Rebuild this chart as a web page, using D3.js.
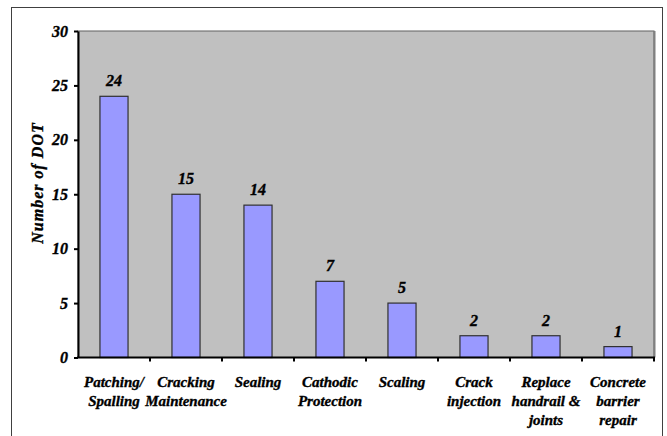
<!DOCTYPE html>
<html>
<head>
<meta charset="utf-8">
<script src="https://cdn.jsdelivr.net/npm/d3@7"></script>
<style>
  html, body { margin: 0; padding: 0; background: #fff; }
</style>
</head>
<body>
<svg id="chart" width="667" height="436"></svg>
<script>
// Repair activities reported by state DOTs
const categories = [
  "Patching/\nSpalling",
  "Cracking\nMaintenance",
  "Sealing",
  "Cathodic\nProtection",
  "Scaling",
  "Crack\ninjection",
  "Replace\nhandrail &\njoints",
  "Concrete\nbarrier\nrepair"
];
const counts = [24, 15, 14, 7, 5, 2, 2, 1];
const yTicks = [0, 5, 10, 15, 20, 25, 30];
const yTitle = "Number of DOT";

const FONT = "'Liberation Serif', 'Times New Roman', Times, serif";
const styleText = (sel, size) => sel
  .style("font-family", FONT)
  .style("font-weight", "bold")
  .style("font-style", "italic")
  .style("font-size", size + "px")
  .style("fill", "#000")
  .style("stroke", "#000")
  .style("stroke-width", "0.35px");

const svg = d3.select("#chart");
const plot = { left: 78, right: 654, top: 31, bottom: 357.5 };

// Outer chart frame
svg.append("rect")
  .attr("x", 11.5).attr("y", 7.5)
  .attr("width", 651).attr("height", 440)
  .attr("fill", "none").attr("stroke", "#404040").attr("stroke-width", 1);

const x = d3.scaleBand()
  .domain(categories)
  .range([plot.left, plot.right])
  .paddingInner(0.61)
  .paddingOuter(0.305);

const y = d3.scaleLinear().domain([0, 30]).range([plot.bottom, plot.top]);

// Plot area background
svg.append("rect")
  .attr("x", plot.left).attr("y", plot.top)
  .attr("width", plot.right - plot.left).attr("height", plot.bottom - plot.top)
  .attr("fill", "#c0c0c0").attr("stroke", "#606060").attr("stroke-width", 1);
svg.append("line")
  .attr("x1", plot.right + 0.5).attr("x2", plot.right + 0.5)
  .attr("y1", plot.top).attr("y2", plot.bottom)
  .attr("stroke", "#808080").attr("stroke-width", 2);

// Bars
svg.append("g").selectAll("rect")
  .data(counts)
  .join("rect")
  .attr("x", (d, i) => x(categories[i]))
  .attr("y", d => y(d))
  .attr("width", x.bandwidth())
  .attr("height", d => y(0) - y(d))
  .attr("fill", "#9999ff")
  .attr("stroke", "#303030").attr("stroke-width", 1.2);

// Value labels
svg.append("g").selectAll("text")
  .data(counts)
  .join("text")
  .attr("x", (d, i) => x(categories[i]) + x.bandwidth() / 2)
  .attr("y", d => y(d) - 10)
  .attr("text-anchor", "middle")
  .text(d => d)
  .call(styleText, 16);

// Y axis
const yAxis = svg.append("g")
  .attr("transform", `translate(${plot.left},0)`)
  .call(d3.axisLeft(y).tickValues(yTicks).tickSize(4).tickPadding(6).tickSizeOuter(0));
yAxis.select(".domain").attr("stroke", "#000").attr("stroke-width", 2);
yAxis.selectAll(".tick line").attr("stroke", "#000").attr("stroke-width", 2);
yAxis.selectAll(".tick text").call(styleText, 16);

// X axis: ticks sit on the boundaries between categories
const boundaries = d3.range(categories.length + 1).map(i => plot.left + i * x.step());
const xAxisG = svg.append("g");
xAxisG.append("line")
  .attr("x1", plot.left - 1).attr("x2", plot.right + 1)
  .attr("y1", plot.bottom).attr("y2", plot.bottom)
  .attr("stroke", "#000").attr("stroke-width", 2);
xAxisG.selectAll("line.tick")
  .data(boundaries.slice(1))
  .join("line")
  .attr("class", "tick")
  .attr("x1", d => d).attr("x2", d => d)
  .attr("y1", plot.bottom).attr("y2", plot.bottom + 4)
  .attr("stroke", "#000").attr("stroke-width", 2);

// Category labels
const labels = svg.append("g").selectAll("text")
  .data(categories)
  .join("text")
  .attr("x", d => x(d) + x.bandwidth() / 2)
  .attr("y", 387)
  .attr("text-anchor", "middle")
  .call(styleText, 15);
labels.each(function (d) {
  const t = d3.select(this);
  d.split("\n").forEach((line, k) => {
    t.append("tspan")
      .attr("x", x(d) + x.bandwidth() / 2)
      .attr("dy", k === 0 ? 0 : 19)
      .text(line);
  });
});

// Y axis title
svg.append("text")
  .attr("transform", "translate(42.5,183) rotate(-90)")
  .attr("text-anchor", "middle")
  .style("letter-spacing", "1px")
  .text(yTitle)
  .call(styleText, 16);
</script>
</body>
</html>
